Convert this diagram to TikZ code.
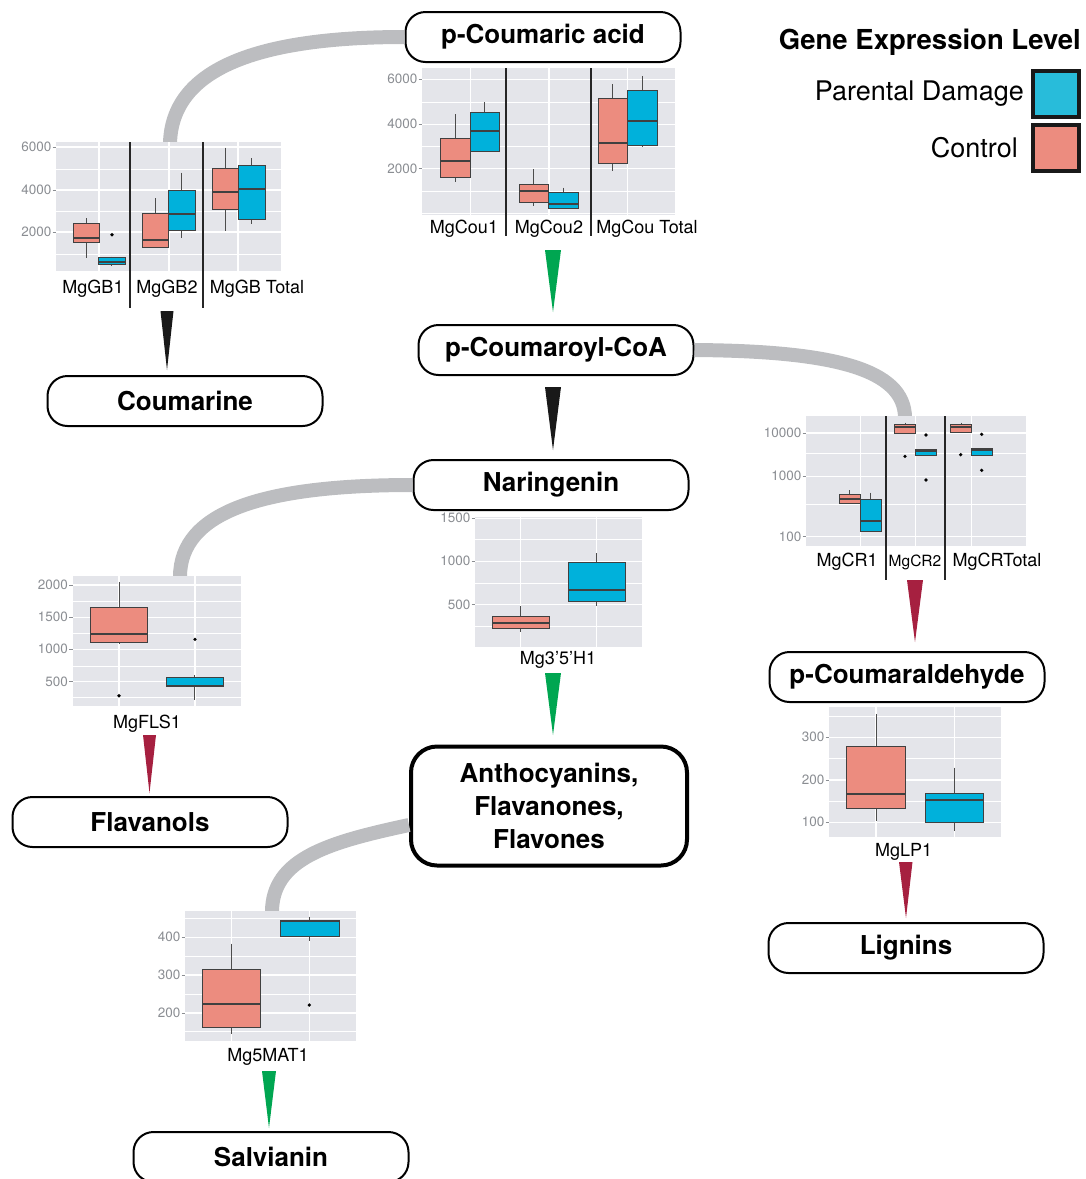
\documentclass[tikz,border=0pt]{standalone}
\usepackage{fontspec}
\setmainfont{TeX Gyre Heros}
\usetikzlibrary{positioning}

\definecolor{ctrlpink}{RGB}{236,140,127}
\definecolor{dmgblue}{RGB}{0,177,219}
\definecolor{legblue}{RGB}{40,188,218}
\definecolor{panelgrey}{RGB}{228,229,234}
\definecolor{axisgrey}{RGB}{138,141,146}
\definecolor{linkgrey}{RGB}{188,189,192}
\definecolor{stepgreen}{RGB}{0,166,81}
\definecolor{stepred}{RGB}{166,32,64}

\tikzset{
  stage/.style={draw=black, fill=white, line width=2pt, rounded corners=20pt,
    minimum width=275pt, minimum height=50pt, align=center,
    font=\fontsize{26}{33}\selectfont\bfseries},
  link/.style={draw=linkgrey, line width=14pt},
  panelbg/.style={fill=panelgrey},
  gridmajor/.style={draw=white, line width=1.2pt},
  gridminor/.style={draw=white, line width=0.6pt},
  facetsep/.style={draw=black!85, line width=2pt},
  tickmark/.style={draw=axisgrey, line width=0.8pt},
  ticklabel/.style={anchor=east, inner sep=1pt, text=axisgrey,
    font=\fontsize{13.5}{15}\selectfont},
  genelabel/.style={inner sep=0pt, font=\fontsize{18}{20}\selectfont},
  boxline/.style={draw=black!75, line width=1pt},
  whisk/.style={draw=black!70, line width=1pt},
  medline/.style={draw=black!75, line width=1.8pt},
  outlier/.style={fill=black},
  legsq/.style={draw=black!90, line width=4pt, minimum size=46pt, inner sep=0pt},
  legtext/.style={anchor=east, inner sep=0pt, font=\fontsize{27}{30}\selectfont}
}

% panel with grid: x1, y1, x2, y2, major rows, minor rows, columns
\newcommand{\plotbg}[7]{%
  \fill[panelbg] (#1,#2) rectangle (#3,#4);
  \foreach \g in {#6} \draw[gridminor] (#1,\g) -- (#3,\g);
  \foreach \g in {#5} \draw[gridmajor] (#1,\g) -- (#3,\g);
  \foreach \g in {#7} \draw[gridmajor] (\g,#2) -- (\g,#4);
}
% y axis: panel left edge, list of row/label
\newcommand{\yticks}[2]{%
  \foreach \g/\t in {#2} {
    \draw[tickmark] (#1-3.5,\g) -- (#1,\g);
    \node[ticklabel] at (#1-3.5,\g) {\t};
  }
}
% one box: left, right, whisker top, upper, median, lower, whisker bottom, fill
\newcommand{\gbox}[8]{%
  \draw[whisk] ({(#1+#2)/2},#3) -- ({(#1+#2)/2},#7);
  \filldraw[boxline, fill=#8] (#1,#4) rectangle (#2,#6);
  \draw[medline] (#1,#5) -- (#2,#5);
}

\begin{document}
\begin{tikzpicture}[x=1pt, y=-1pt]
  \useasboundingbox (0,0) rectangle (1086,1179);

  % pathway stages
  \node[stage] (cacid) at (543,37) {p-Coumaric acid};
  \node[stage] (ccoa) at (556,350) {p-Coumaroyl-CoA};
  \node[stage] (coum) at (185,401) {Coumarine};
  \node[stage] (nar) at (551,485) {Naringenin};
  \node[stage] (cald) at (907,677) {p-Coumaraldehyde};
  \node[stage] (flav) at (150,822) {Flavanols};
  \node[stage, line width=4pt, rounded corners=26pt, minimum width=276pt,
    minimum height=119pt] (antho) at (549,806) {Anthocyanins,\\Flavanones,\\Flavones};
  \node[stage] (lig) at (906,948) {Lignins};
  \node[stage] (salv) at (271,1157) {Salvianin};

  % grey links to the expression plots
  \coordinate (gbtop) at (170,143);
  \coordinate (crtop) at (905,418);
  \coordinate (flstop) at (180,577);
  \coordinate (mattop) at (272,912);
  \draw[link] (cacid.west) .. controls (250,37) and (172,72) .. (gbtop);
  \draw[link] (ccoa.east) .. controls (830,351) and (905,368) .. (crtop);
  \draw[link] (nar.west) .. controls (262,485) and (180,512) .. (flstop);
  \draw[link] ([yshift=-19pt]antho.west) .. controls (330,842) and (272,858) .. (mattop);

  % MgGB
  \plotbg{56}{142}{281}{271}{147,190,232}{169,211,254}{99,169,238}
  \yticks{56}{147/6000, 190/4000, 232/2000}
  \gbox{73}{99}{218}{223}{238}{242}{258}{ctrlpink}
  \gbox{98}{125}{256.7}{257.7}{261.7}{264.3}{265.7}{dmgblue}
  \fill[outlier] (112,234.7) circle (1.8);
  \gbox{142}{168}{198.3}{213.3}{240}{247.3}{247.3}{ctrlpink}
  \gbox{168}{195}{172.7}{190.3}{214.3}{230}{237.7}{dmgblue}
  \gbox{212}{238}{147.7}{168.3}{192.3}{209.7}{231}{ctrlpink}
  \gbox{238}{265}{158.3}{165}{189}{219.7}{224}{dmgblue}
  \draw[facetsep] (130,142) -- (130,308);
  \draw[facetsep] (203,142) -- (203,308);
  \node[genelabel] (gb1) at (93,289) {MgGB1};
  \node[genelabel] (gb2) at (167,289) {MgGB2};
  \node[genelabel] (gbt) at (257,289) {MgGB Total};
  \fill[black!90] (160.5,311) -- (173.5,311) -- (167,370) -- cycle;

  % MgCou
  \plotbg{422}{68}{675}{215}{79.3,124.3,168.7}{102,146.5,191,213}{470.7,549,627.3}
  \yticks{422}{79.3/6000, 124.3/4000, 168.7/2000}
  \gbox{440}{470}{114.3}{138.3}{160.7}{177.7}{181.7}{ctrlpink}
  \gbox{470}{499.3}{102.3}{112.3}{131.3}{151}{151}{dmgblue}
  \gbox{519}{548.7}{169.3}{184.3}{190.7}{202.7}{206}{ctrlpink}
  \gbox{548.7}{578.7}{187.7}{192.3}{203.7}{208.3}{208.3}{dmgblue}
  \gbox{598.3}{627.3}{84}{98.3}{143}{163.3}{171}{ctrlpink}
  \gbox{627.3}{657.3}{76}{90.7}{121}{145.7}{146.7}{dmgblue}
  \draw[facetsep] (506,68) -- (506,236);
  \draw[facetsep] (591,68) -- (591,236);
  \node[genelabel] (cou1) at (464,229) {MgCou1};
  \node[genelabel] (cou2) at (549,229) {MgCou2};
  \node[genelabel] (cout) at (647,229) {MgCou Total};
  \fill[stepgreen] (545,250) -- (561,250) -- (553,312) -- cycle;
  \fill[black!90] (545,387) -- (561,387) -- (553,450) -- cycle;

  % MgCR
  \plotbg{806}{416}{1026}{546}{433,476.3,536.7}{453.3,504}{860.7,915.7,971.7}
  \yticks{806}{433/10000, 476.3/1000, 536.7/100}
  \gbox{839.3}{860}{490}{494.3}{499.3}{503.3}{503.3}{ctrlpink}
  \gbox{860}{881}{492.7}{499.3}{521}{531.3}{531.3}{dmgblue}
  \gbox{894.3}{915.7}{422.7}{424.7}{427.3}{433.3}{433.3}{ctrlpink}
  \gbox{915.7}{936.7}{449}{449}{450.7}{455.7}{455.7}{dmgblue}
  \gbox{950.7}{971.3}{422.7}{424.3}{426.7}{432.3}{432.3}{ctrlpink}
  \gbox{971.3}{992.3}{448.3}{448.3}{450}{455.3}{455.3}{dmgblue}
  \foreach \p in {(905,456.3), (926,435), (926,480), (960.7,454.7), (981.7,434.3), (981.7,470.3)}
    \fill[outlier] \p circle (1.8);
  \draw[facetsep] (885.7,416) -- (885.7,580);
  \draw[facetsep] (944.7,416) -- (944.7,580);
  \node[genelabel] (cr1) at (847,562) {MgCR1};
  \node[genelabel, font=\fontsize{15.5}{18}\selectfont] (cr2) at (915,562) {MgCR2};
  \node[genelabel] (crt) at (997,562) {MgCRTotal};
  \fill[stepred] (907,580) -- (923,580) -- (915,642) -- cycle;

  % MgFLS1
  \plotbg{72.7}{576}{240.7}{705.7}{585,617.3,649.3,681.7}{601.3,633.3,666,697.7}{119,195}
  \yticks{72.7}{585/2000, 617.3/1500, 649.3/1000, 681.7/500}
  \gbox{90.7}{147.7}{582.3}{607.7}{634.3}{642}{644}{ctrlpink}
  \gbox{166}{223.7}{675}{677.3}{685.7}{686.7}{700}{dmgblue}
  \fill[outlier] (119,695.7) circle (1.8);
  \fill[outlier] (195,639.3) circle (1.8);
  \node[genelabel] (fls1) at (147,724) {MgFLS1};
  \fill[stepred] (143,735) -- (156,735) -- (149.5,793) -- cycle;

  % Mg3'5'H1
  \plotbg{475}{517.3}{642.3}{646.7}{518.3,561.3,604.7}{539.7,583,626}{520.7,596.7}
  \yticks{475}{518.3/1500, 561.3/1000, 604.7/500}
  \gbox{492.3}{549.3}{606}{616.7}{623}{628.3}{631.7}{ctrlpink}
  \gbox{568.3}{625.3}{553.3}{562.3}{590}{601.3}{606}{dmgblue}
  \node[genelabel] (h351) at (558,660) {Mg3’5’H1};
  \fill[stepgreen] (545,673) -- (561,673) -- (553,735) -- cycle;

  % MgLP1
  \plotbg{829}{707.3}{1000.7}{836.7}{737.3,780,822.3}{716,758.7,801.3}{876,954.3}
  \yticks{829}{737.3/300, 780/200, 822.3/100}
  \gbox{846.7}{905.3}{714}{746.3}{794}{808}{820.7}{ctrlpink}
  \gbox{925.7}{983.3}{767.7}{793.7}{800}{822.3}{831}{dmgblue}
  \node[genelabel] (lp1) at (903.7,851.5) {MgLP1};
  \fill[stepred] (899,862) -- (912.5,862) -- (906,918) -- cycle;

  % Mg5MAT1
  \plotbg{185}{911}{356}{1040.7}{937.3,975,1013}{918.3,956,994,1031.7}{231.7,309.3}
  \yticks{185}{937.3/400, 975/300, 1013/200}
  \gbox{202.3}{260.7}{943.7}{969.7}{1003.7}{1027.3}{1034}{ctrlpink}
  \gbox{280.7}{339}{916.7}{920.7}{921}{936.3}{941.3}{dmgblue}
  \fill[outlier] (309.3,1005) circle (1.8);
  \node[genelabel] (mat1) at (268,1056.5) {Mg5MAT1};
  \fill[stepgreen] (262,1071) -- (276,1071) -- (269,1128) -- cycle;

  % legend
  \node[anchor=east, inner sep=0pt, font=\fontsize{27.5}{30}\selectfont\bfseries]
    (legtitle) at (1081,42) {Gene Expression Level};
  \node[legsq, fill=legblue] (sqdmg) at (1056,93.5) {};
  \node[legsq, fill=ctrlpink] (sqctl) at (1056,148) {};
  \node[legtext, left=7pt of sqdmg] (txdmg) {Parental Damage};
  \node[legtext, left=13pt of sqctl] (txctl) {Control};
\end{tikzpicture}
\end{document}
